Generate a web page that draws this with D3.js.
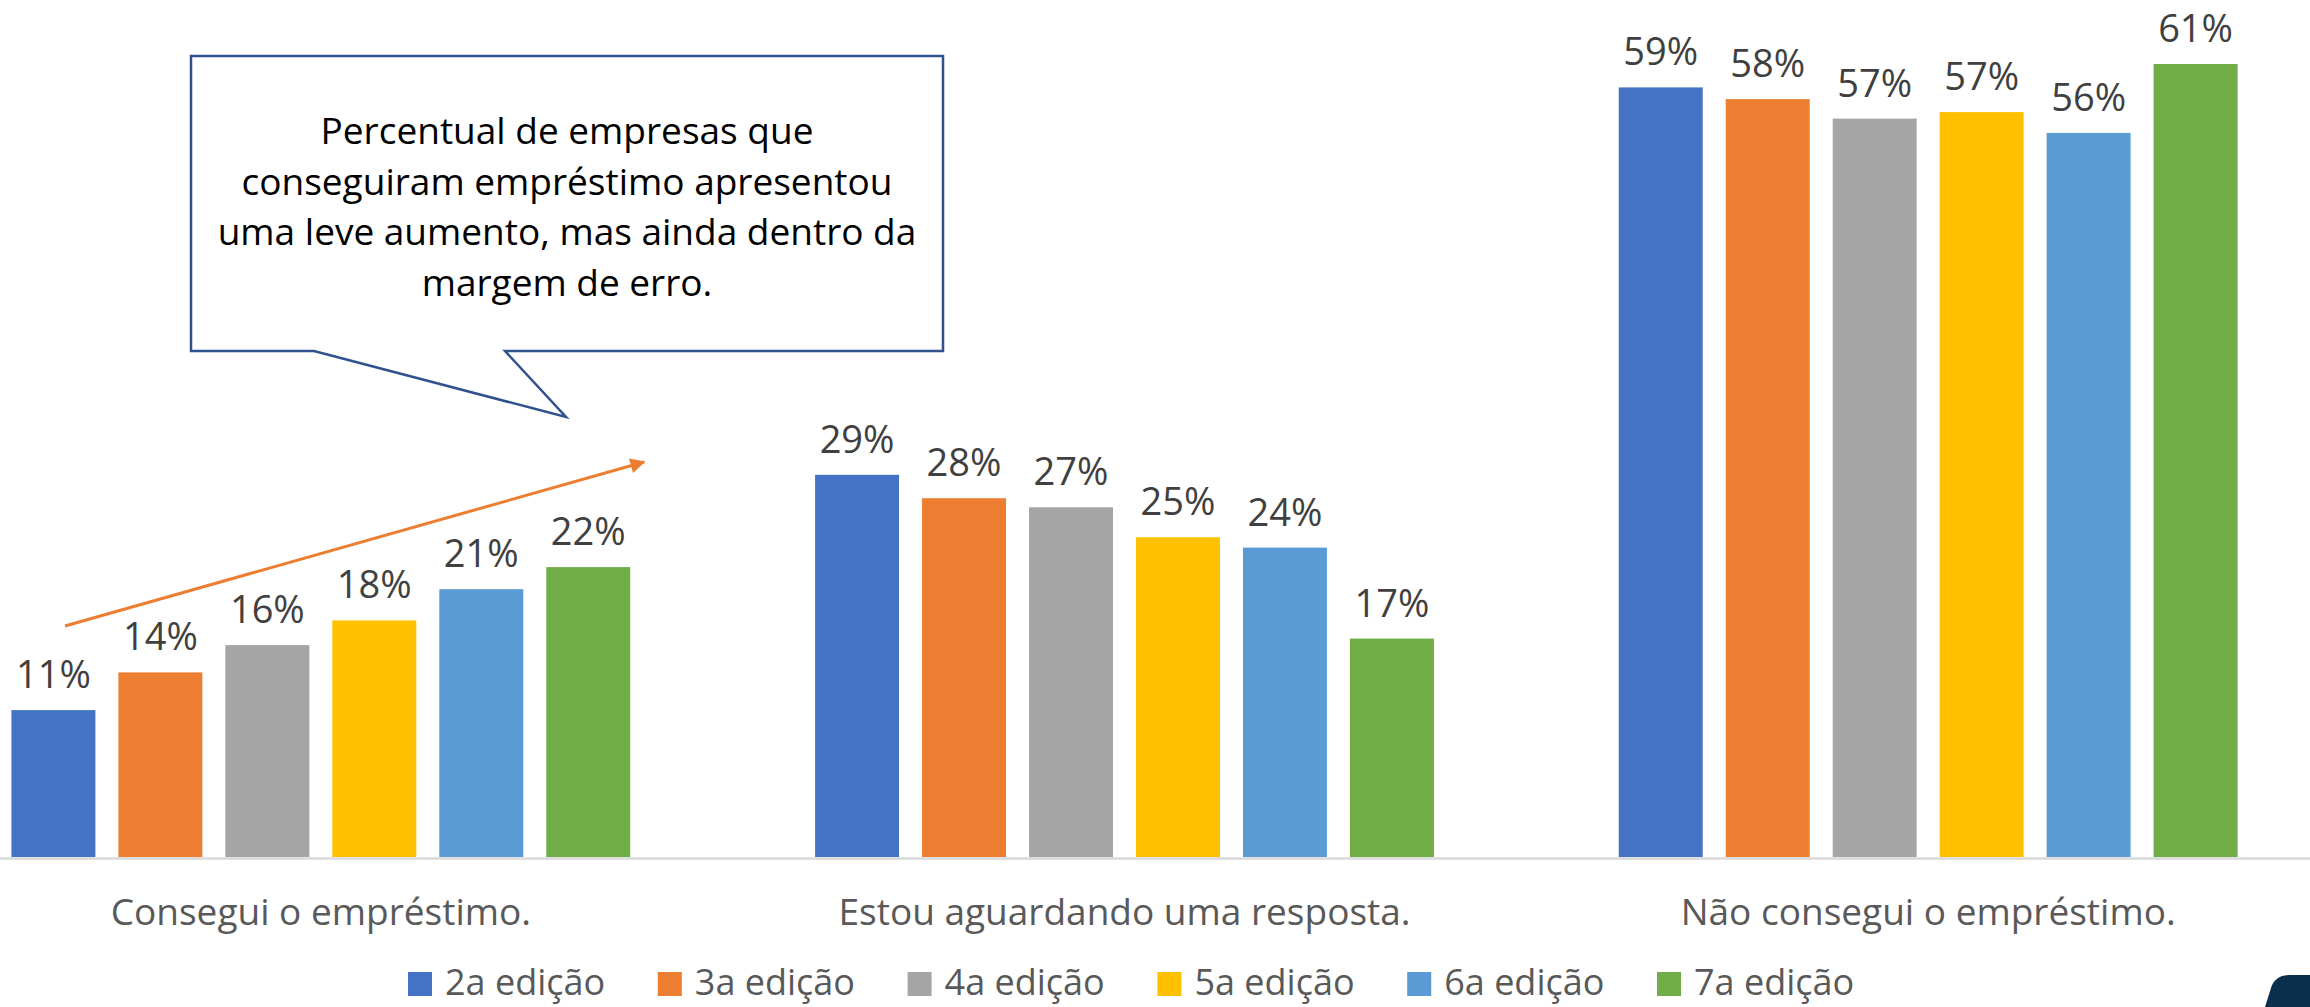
<!DOCTYPE html>
<html>
<head>
<meta charset="utf-8">
<script src="https://cdn.jsdelivr.net/npm/d3@7"></script>
<style>
  html, body { margin: 0; padding: 0; background: #fff; }
  svg { display: block; font-family: "Open Sans", sans-serif; }
</style>
</head>
<body>
<svg id="chart"></svg>
<script>
  const width = 2310,
        height = 1007,
        baseY = 857;

  // categories (x axis groups)
  const categories = ["Consegui o empréstimo.", "Estou aguardando uma resposta.", "Não consegui o empréstimo."];
  // survey editions (series)
  const editions = ["2a edição", "3a edição", "4a edição", "5a edição", "6a edição", "7a edição"];
  const colors = ["#4472C4", "#ED7D31", "#A5A5A5", "#FFC000", "#5B9BD5", "#70AD47"];

  // values per category, one per edition
  const consegui    = [0.113, 0.142, 0.163, 0.182, 0.206, 0.223];
  const aguardando  = [0.294, 0.276, 0.269, 0.246, 0.238, 0.168];
  const naoConsegui = [0.592, 0.583, 0.568, 0.573, 0.557, 0.610];
  const values = [consegui, aguardando, naoConsegui];

  const calloutLines = [
    "Percentual de empresas que",
    "conseguiram empréstimo apresentou",
    "uma leve aumento, mas ainda dentro da",
    "margem de erro."
  ];

  const svg = d3.select("#chart")
                .attr("width", width)
                .attr("height", height);

  let x0 = d3.scaleBand()
             .domain(categories)
             .range([-81, 2330])
             .paddingInner(0.23)
             .paddingOuter(0.115);

  let x1 = d3.scaleBand()
             .domain(editions)
             .range([0, x0.bandwidth()])
             .paddingInner(0.215)
             .paddingOuter(0);

  let y = d3.scaleLinear()
            .domain([0, 0.65])
            .range([baseY, baseY - 845]);

  let fmt = d3.format(".0%");

  // Bar groups
  let groups = svg.selectAll("g.group")
                  .data(categories)
                  .enter()
                  .append("g")
                  .attr("class", "group")
                  .attr("transform", (d) => "translate(" + x0(d) + ",0)");

  groups.selectAll("rect")
        .data((d, i) => values[i].map((v, j) => ({ed: editions[j], v: v, c: colors[j]})))
        .enter()
        .append("rect")
        .attr("x", (d) => x1(d.ed))
        .attr("y", (d) => y(d.v))
        .attr("width", x1.bandwidth())
        .attr("height", (d) => baseY - y(d.v))
        .style("fill", (d) => d.c);

  // Data labels
  groups.selectAll("text.lbl")
        .data((d, i) => values[i].map((v, j) => ({ed: editions[j], v: v})))
        .enter()
        .append("text")
        .attr("class", "lbl")
        .attr("x", (d) => x1(d.ed) + x1.bandwidth() / 2)
        .attr("y", (d) => y(d.v) - 22)
        .attr("text-anchor", "middle")
        .style("font-size", "38px")
        .style("fill", "#404040")
        .text((d) => fmt(d.v));

  // x-Axis
  let xAxis = svg.append("g")
                 .attr("class", "x-axis")
                 .attr("transform", "translate(0," + (baseY + 1) + ")")
                 .call(d3.axisBottom(x0).tickSize(0).tickSizeOuter(0));

  xAxis.select(".domain")
       .attr("stroke", "#D9D9D9")
       .attr("stroke-width", 2.3);

  xAxis.selectAll("text")
       .attr("y", 67)
       .attr("dy", null)
       .style("font-family", "'Open Sans', sans-serif")
       .style("font-size", "37px")
       .style("fill", "#595959");

  // Legend
  let legend = svg.append("g")
                  .attr("class", "legend")
                  .attr("transform", "translate(408,972)");

  let item = legend.selectAll("g")
                   .data(editions)
                   .enter()
                   .append("g")
                   .attr("transform", (d, i) => "translate(" + (i * 249.8) + ",0)");

  item.append("rect")
      .attr("width", 24)
      .attr("height", 24)
      .style("fill", (d, i) => colors[i]);

  item.append("text")
      .attr("x", 37)
      .attr("y", 23)
      .style("font-size", "36px")
      .style("fill", "#595959")
      .text((d) => d);

  // Trend arrow
  svg.append("defs")
     .append("marker")
     .attr("id", "arrowHead")
     .attr("viewBox", "0 0 10 10")
     .attr("refX", 9)
     .attr("refY", 5)
     .attr("markerWidth", 6)
     .attr("markerHeight", 5)
     .attr("markerUnits", "strokeWidth")
     .attr("orient", "auto")
     .append("path")
     .attr("d", "M0,0 L10,5 L0,10 Z")
     .style("fill", "#ED7D31");

  svg.append("line")
     .attr("x1", 65)
     .attr("y1", 626)
     .attr("x2", 644)
     .attr("y2", 462)
     .attr("stroke", "#ED7D31")
     .attr("stroke-width", 3)
     .attr("marker-end", "url(#arrowHead)");

  // Callout box with tail
  svg.append("path")
     .attr("d", "M191,56 L943,56 L943,351 L505,351 L566,417 L314,351 L191,351 Z")
     .style("fill", "#fff")
     .style("stroke", "#2F528F")
     .style("stroke-width", 2.5)
     .style("stroke-linejoin", "miter");

  svg.append("text")
     .attr("text-anchor", "middle")
     .style("font-size", "37px")
     .style("fill", "#000")
     .selectAll("tspan")
     .data(calloutLines)
     .enter()
     .append("tspan")
     .attr("x", 567)
     .attr("y", (d, i) => 144 + i * 50.5)
     .text((d) => d);

  // Dark corner shape (bottom right)
  svg.append("path")
     .attr("d", "M2265,1007 L2271,988 Q2275,975 2290,975 L2310,975 L2310,1007 Z")
     .style("fill", "#0B2E4C");
</script>
</body>
</html>
